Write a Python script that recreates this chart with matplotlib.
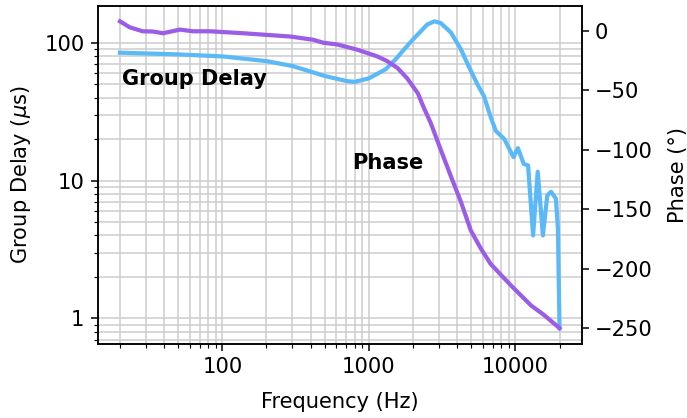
import numpy as np
import matplotlib
matplotlib.use("Agg")
import matplotlib.pyplot as plt

# Group delay (left axis, microseconds)
gd_freq = [20, 50, 100, 200, 300, 500, 700, 800, 1000, 1300, 1520, 1700, 2000, 2500, 2800,
           3090, 3630, 4250, 4800, 5500, 6100, 6700, 7350, 8400, 9700, 10400, 11400, 12200,
           13200, 14200, 15400, 16500, 17500, 18900, 19500, 20000]
gd_vals = [84.7, 82.3, 79.6, 73.6, 67.8, 57.4, 52.8, 52.0, 55.2, 64.2, 75.7, 87.0, 105.7, 135.6, 143.0,
           139.0, 118.7, 89.4, 67.4, 50.0, 41.0, 30.0, 22.9, 20.0, 14.8, 17.2, 13.2, 12.9,
           4.0, 11.6, 4.0, 7.8, 8.3, 7.4, 4.5, 0.85]

# Phase (right axis, degrees)
ph_freq = [20, 23.3, 28.6, 33.6, 39.3, 51.3, 63, 82.3, 138.7, 290, 418, 489, 610, 835, 975,
           1140, 1330, 1570, 1830, 2160, 2335, 2640, 3090, 3630, 4250, 4960, 5800, 6770, 9300,
           12800, 15700, 20000]
ph_vals = [7.75, 2.75, -0.6, -0.8, -2.25, 0.8, -0.6, -0.6, -2.25, -5.0, -7.75, -10.25, -11.7,
           -16.1, -18.9, -21.7, -25.6, -31.5, -40.3, -52.75, -63.0, -77.5, -100, -122.5, -144,
           -168, -183, -196, -214, -231, -239, -250]

blue = "#5cb9f8"
purple = "#9b5de5"

plt.rcParams["font.size"] = 11

fig = plt.figure(figsize=(687 / 137.4, 418 / 137.4), dpi=137.4)
ax = fig.add_subplot(111)
fig.subplots_adjust(left=98 / 687, right=581.5 / 687, top=1 - 6 / 418, bottom=1 - 343.5 / 418)

ax.plot(gd_freq, gd_vals, color=blue, lw=2.2)
ax.set_xscale("log")
ax.set_yscale("log")
ax.grid(True, which="both", color="0.8", lw=0.8)
ax.set_xlabel("Frequency (Hz)", labelpad=8)
ax.set_ylabel(r"Group Delay ($\mu$s)", labelpad=6)
ax.xaxis.set_major_formatter(matplotlib.ticker.FuncFormatter(lambda v, p: f"{v:g}"))
ax.yaxis.set_major_formatter(matplotlib.ticker.FuncFormatter(lambda v, p: f"{v:g}"))
ax.text(20.5, 55, "Group Delay", fontsize=11, fontweight="bold", va="center")

ax2 = ax.twinx()
ax2.plot(ph_freq, ph_vals, color=purple, lw=2.2)
ax2.set_ylabel("Phase (°)", labelpad=8)
ax2.set_yticks([0, -50, -100, -150, -200, -250])
ax.text(770, 13.5, "Phase", fontsize=11, fontweight="bold", va="center")

fig.savefig("out.png", dpi=137.4)
